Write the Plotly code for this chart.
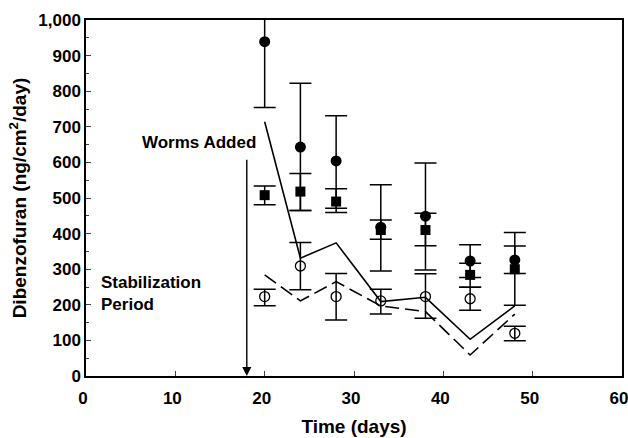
import plotly.graph_objects as go

days = [20, 24, 28, 33, 38, 43, 48]

# filled circles
fc_val = [939, 643, 604, 418, 449, 323, 326]
fc_hi = [1124, 822, 731, 537, 598, 369, 403]
fc_lo = [754, 465, 471, 295, 298, 277, 199]

# filled squares
fs_val = [508, 518, 490, 410, 410, 284, 300]
fs_hi = [534, 569, 526, 438, 457, 317, 365]
fs_lo = [481, 465, 459, 384, 366, 249, 288]

# open circles
oc_val = [223, 309, 223, 211, 223, 217, 120]
oc_hi = [244, 375, 288, 244, 287, 249, 140]
oc_lo = [197, 242, 157, 174, 162, 185, 99]

# model lines
solid_line = [714, 331, 374, 209, 221, 103, 197]
dashed_line = [284, 211, 265, 197, 181, 59, 174]

x_ticks = [0, 10, 20, 30, 40, 50, 60]
y_ticks = [0, 100, 200, 300, 400, 500, 600, 700, 800, 900, 1000]

FONT = "Liberation Sans, Arial, sans-serif"


def err(vals, hi, lo):
    return dict(type="data", symmetric=False,
                array=[h - v for h, v in zip(hi, vals)],
                arrayminus=[v - l for l, v in zip(lo, vals)],
                color="black", thickness=1.5, width=11)


fig = go.Figure()
fig.add_trace(go.Scatter(x=days, y=solid_line, mode="lines",
                         line=dict(color="black", width=1.6), showlegend=False))
fig.add_trace(go.Scatter(x=days, y=dashed_line, mode="lines",
                         line=dict(color="black", width=1.6, dash="14px,6px"), showlegend=False))
fig.add_trace(go.Scatter(x=days, y=oc_val, mode="markers",
                         marker=dict(symbol="circle-open", size=10, color="black", line=dict(width=1.3)),
                         error_y=err(oc_val, oc_hi, oc_lo), showlegend=False))
fig.add_trace(go.Scatter(x=days, y=fs_val, mode="markers",
                         marker=dict(symbol="square", size=10, color="black"),
                         error_y=err(fs_val, fs_hi, fs_lo), showlegend=False))
fig.add_trace(go.Scatter(x=days, y=fc_val, mode="markers",
                         marker=dict(symbol="circle", size=11, color="black"),
                         error_y=err(fc_val, fc_hi, fc_lo), showlegend=False))

fig.add_annotation(x=18, y=0, ax=18, ay=612, xref="x", yref="y", axref="x", ayref="y",
                   text="", showarrow=True, arrowhead=2, arrowsize=1.3, arrowwidth=1.4,
                   arrowcolor="black")
fig.add_annotation(x=19.3, y=657, xref="x", yref="y", text="<b>Worms Added</b>",
                   showarrow=False, xanchor="right", yanchor="middle",
                   font=dict(family=FONT, size=17, color="black"))
fig.add_annotation(x=1.4, y=233, xref="x", yref="y",
                   text="<b>Stabilization<br>Period</b>", align="left",
                   showarrow=False, xanchor="left", yanchor="middle",
                   font=dict(family=FONT, size=17, color="black"))

fig.update_layout(
    width=628, height=438,
    margin=dict(l=86, r=6, t=20, b=62),
    paper_bgcolor="white", plot_bgcolor="white",
    font=dict(family=FONT, color="black", size=15),
    xaxis=dict(range=[0, 60], tickvals=x_ticks, ticks="inside", ticklen=5,
               showline=True, linecolor="black", linewidth=1.5, mirror=True,
               showgrid=False, zeroline=False, automargin=False, ticklabeloverflow="allow",
               ticklabelstandoff=6, ticklabelshift=-3,
               tickfont=dict(family=FONT, size=17, weight="bold"),
               title=dict(text="<b>Time (days)</b>", font=dict(size=19), standoff=13)),
    yaxis=dict(range=[0, 1000], tickvals=y_ticks, tickformat=",d", ticks="inside", ticklen=5,
               showline=True, linecolor="black", linewidth=1.5, mirror=True,
               showgrid=False, zeroline=False, automargin=False,
               minor=dict(ticks="inside", ticklen=3, dtick=50, showgrid=False),
               tickfont=dict(family=FONT, size=17, weight="bold"),
               title=dict(text="<b>Dibenzofuran (ng/cm<sup>2</sup>/day)</b>", font=dict(size=19), standoff=7)),
)

fig.write_html("out.html", config={"displayModeBar": False},
               post_script="document.body.style.margin='0';")
